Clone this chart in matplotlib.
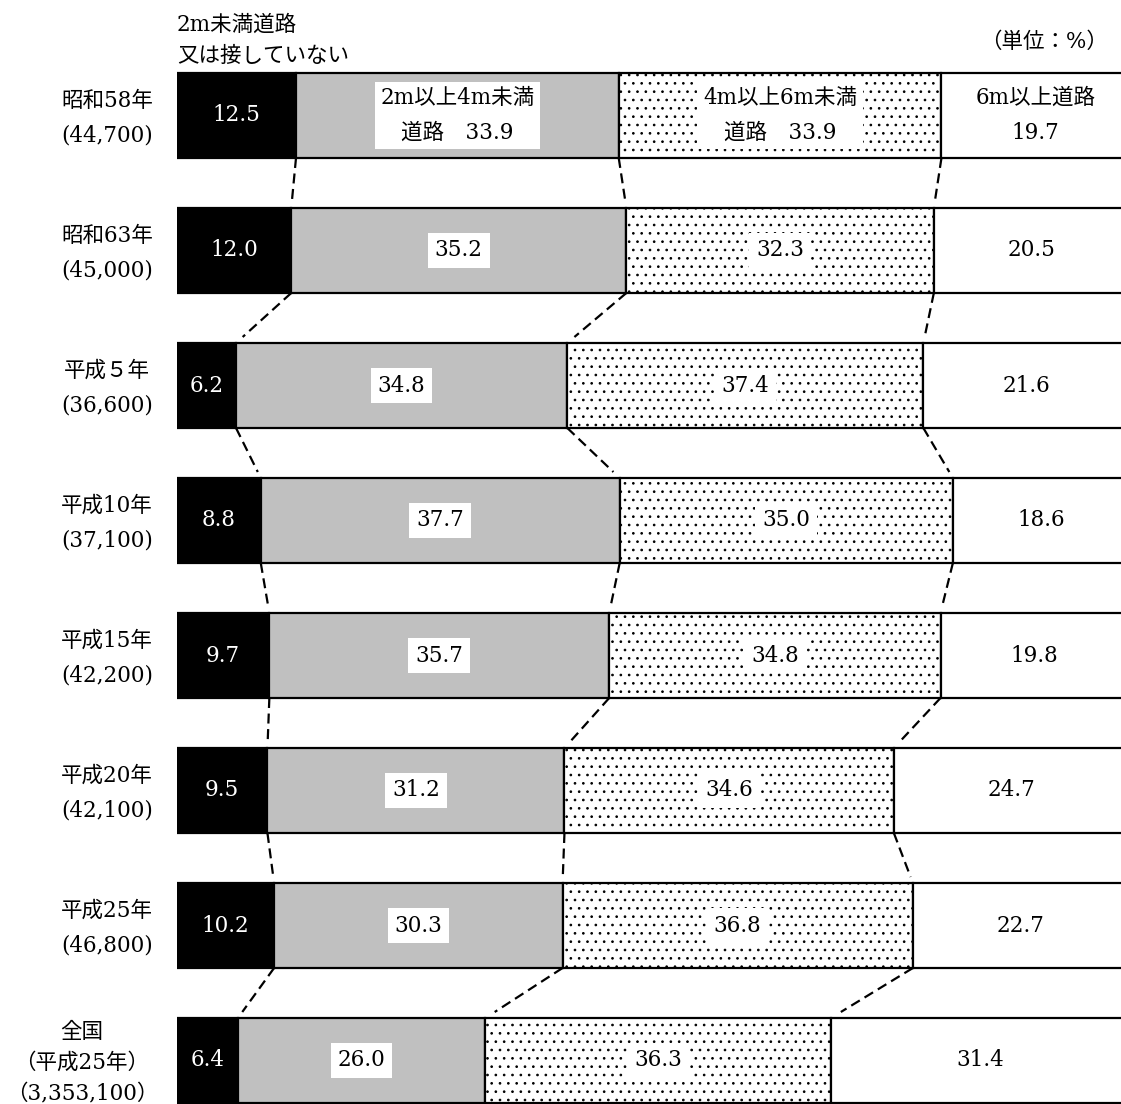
import matplotlib
matplotlib.use("Agg")
import matplotlib.pyplot as plt
import matplotlib.transforms as mtransforms

plt.rcParams['hatch.linewidth'] = 0.7

categories = ['昭和58年\n(44,700)', '昭和63年\n(45,000)', '平成５年\n(36,600)',
              '平成10年\n(37,100)', '平成15年\n(42,200)', '平成20年\n(42,100)',
              '平成25年\n(46,800)', '全国\n（平成25年）\n（3,353,100）']
lt2 = [12.5, 12.0, 6.2, 8.8, 9.7, 9.5, 10.2, 6.4]
m2_4 = [33.9, 35.2, 34.8, 37.7, 35.7, 31.2, 30.3, 26.0]
m4_6 = [33.9, 32.3, 37.4, 35.0, 34.8, 34.6, 36.8, 36.3]
ge6 = [19.7, 20.5, 21.6, 18.6, 19.8, 24.7, 22.7, 31.4]
first_row_labels = ['', '2m以上4m未満\n道路　{}', '4m以上6m未満\n道路　{}', '6m以上道路\n{}']
header_left = '2m未満道路\n又は接していない'
unit_label = '（単位：%）'

FONT = ['DejaVu Serif', 'Noto Sans CJK JP']
FS = 15.5

W, H = 1121, 1104
fig = plt.figure(figsize=(W / 100, H / 100), dpi=100)
x0_px, px_per_pct = 177, 9.52
ax = fig.add_axes([x0_px / W, 0, 100 * px_per_pct / W, 1])
ax.set_xlim(0, 100)
row_pitch, first_center = 135.0, 115.5
ax.set_ylim((H - first_center) / row_pitch, -first_center / row_pitch)
ax.axis('off')

bar_h = 85 / row_pitch
series = [lt2, m2_4, m4_6, ge6]
styles = [dict(color='black', edgecolor='black'),
          dict(color='#c0c0c0', edgecolor='black'),
          dict(facecolor='white', edgecolor='black', hatch='..'),
          dict(facecolor='white', edgecolor='black')]

n = len(categories)
ys = list(range(n))
lefts = [0.0] * n
bounds = []
for k, (s, st) in enumerate(zip(series, styles)):
    ax.barh(ys, s, left=lefts, height=bar_h, linewidth=1.6, **st, zorder=2)
    centers = [l + v / 2 for l, v in zip(lefts, s)]
    for i in range(n):
        v = s[i]
        if i == 0 and k > 0:
            txt = first_row_labels[k].format(v)
        else:
            txt = f'{v:.1f}'
        kw = dict(ha='center', va='center', fontsize=FS, family=FONT, zorder=5,
                  linespacing=1.75)
        if k == 0:
            kw['color'] = 'white'
        elif k in (1, 2):
            kw['color'] = 'black'
            kw['bbox'] = dict(facecolor='white', edgecolor='none',
                              pad=5 if i > 0 else 4)
        else:
            kw['color'] = 'black'
        ax.text(centers[i], i, txt, **kw)
    lefts = [l + v for l, v in zip(lefts, s)]
    bounds.append(list(lefts))

# dashed connector lines between consecutive bars
for b in bounds[:3]:
    for i in range(n - 1):
        xa, ya = b[i], i + bar_h / 2
        xb, yb = b[i + 1], i + 1 - bar_h / 2
        f = 0.88
        ax.plot([xa, xa + (xb - xa) * f], [ya, ya + (yb - ya) * f],
                color='black', lw=1.6, ls=(0, (4.5, 2.5)), zorder=1,
                clip_on=False)

# category labels on the left
trans = mtransforms.blended_transform_factory(fig.transFigure, ax.transData)
for i, c in enumerate(categories):
    last = i == n - 1
    ax.text((82 if last else 107) / W, i + (0.02 if last else 0.02), c,
            transform=trans, ha='center', va='center', fontsize=FS,
            family=FONT, linespacing=1.55 if last else 1.75, clip_on=False)

fig.text(177 / W, 1 - 40 / H, header_left, ha='left', va='center',
         fontsize=FS, family=FONT, linespacing=1.55)
fig.text(1108 / W, 1 - 42 / H, unit_label, ha='right', va='center',
         fontsize=FS, family=FONT)

fig.savefig('out.png', dpi=100)
